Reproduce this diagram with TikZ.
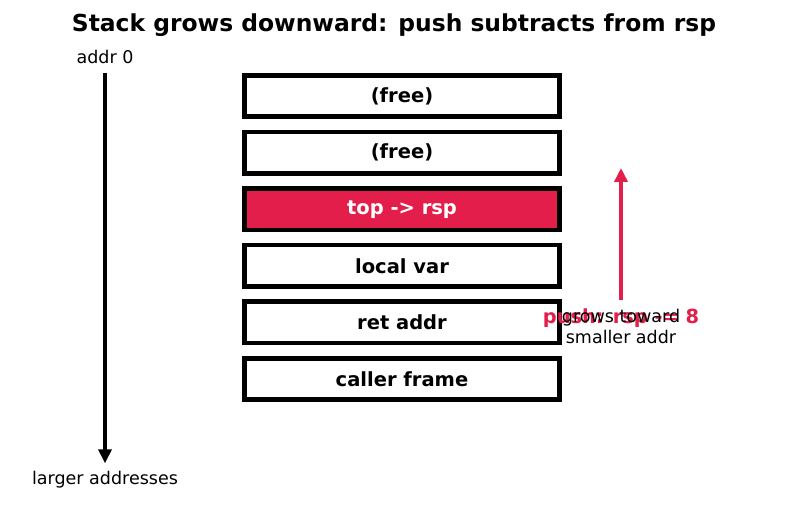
\documentclass[tikz,border=0pt]{standalone}
\usepackage{fontspec}
\setmainfont{DejaVu Sans}
\usepackage{tikz}
\usetikzlibrary{arrows.meta, positioning}
\definecolor{crimson1}{RGB}{227, 30, 75}

\begin{document}
\begin{tikzpicture}[x=1pt, y=-1pt, node distance=10.6pt,
  slot/.style={draw=black, line width=4.6pt, fill=white, minimum width=315.4pt, minimum height=41.4pt, inner sep=0pt, font=\bfseries\fontsize{19.5}{21}\selectfont},
  plain/.style={inner sep=0pt, align=center, font=\fontsize{17.5}{21}\selectfont},
  bigarrow/.style={line width=4.5pt, -{Triangle[length=14pt, width=13pt]}}]
  \useasboundingbox (0,0) rectangle (787,510);

  \node[font=\bfseries\fontsize{23.4}{26}\selectfont] (title) at (394,25) {Stack grows downward: push subtracts from rsp};

  \node[slot] (free1) at (402,96) {(free)};
  \node[slot, below=of free1] (free2) {(free)};
  \node[slot, below=of free2, fill=crimson1, text=white] (top) {top -> rsp};
  \node[slot, below=of top] (local) {local var};
  \node[slot, below=of local] (ret) {ret addr};
  \node[slot, below=of ret] (caller) {caller frame};

  \node[plain] (addr) at (105,57) {addr 0};
  \node[plain] (larger) at (105,480) {larger addresses};
  \draw[bigarrow, shorten <=9pt, shorten >=8pt] (addr.south) -- (larger.north);

  \coordinate (growtail) at (621,300);
  \coordinate (growhead) at (621,168);
  \draw[bigarrow, crimson1] (growtail) -- (growhead);
  \node[plain, font=\bfseries\fontsize{19.4}{21}\selectfont, text=crimson1] (push) at (621,318) {push: rsp -= 8};
  \node[plain] (grows) at (621,326) {grows toward\\smaller addr};
\end{tikzpicture}
\end{document}
